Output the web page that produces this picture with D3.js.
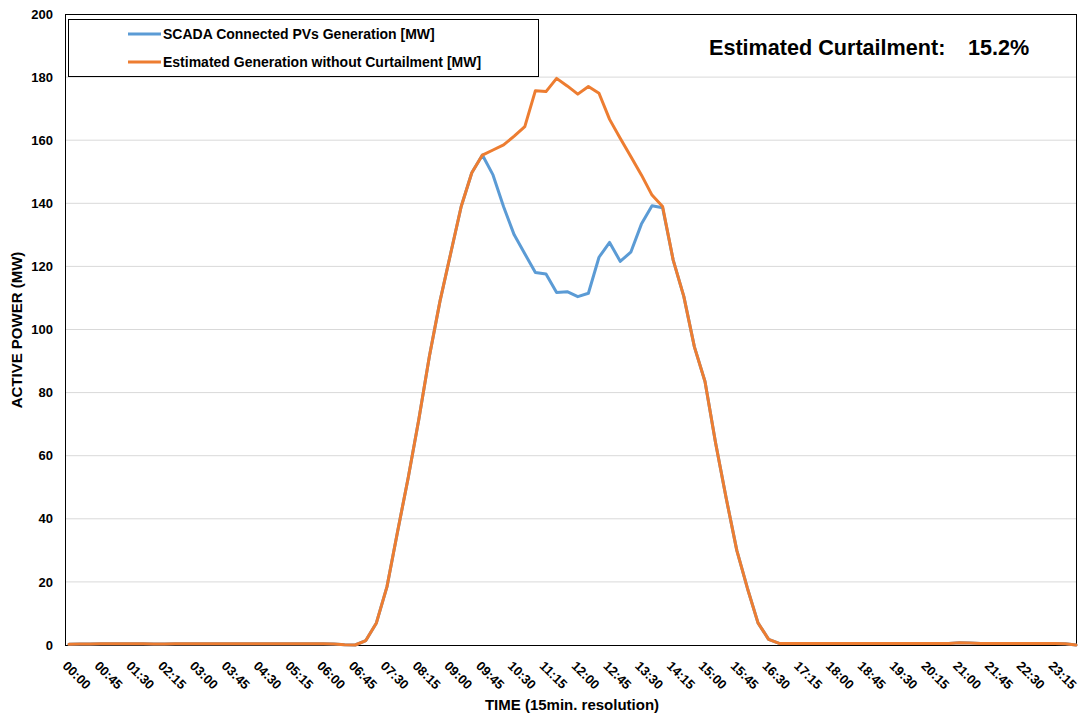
<!DOCTYPE html>
<html>
<head>
<meta charset="utf-8">
<script src="https://cdn.jsdelivr.net/npm/d3@7"></script>
<style>
  html, body { margin: 0; padding: 0; background: #ffffff; }
  svg text { font-family: "Liberation Sans", Arial, sans-serif; font-weight: bold; fill: #000; }
</style>
</head>
<body>
<svg id="chart" width="1081" height="716"></svg>
<script>
const times = [
  "00:00","00:15","00:30","00:45","01:00","01:15","01:30","01:45","02:00","02:15","02:30","02:45",
  "03:00","03:15","03:30","03:45","04:00","04:15","04:30","04:45","05:00","05:15","05:30","05:45",
  "06:00","06:15","06:30","06:45","07:00","07:15","07:30","07:45","08:00","08:15","08:30","08:45",
  "09:00","09:15","09:30","09:45","10:00","10:15","10:30","10:45","11:00","11:15","11:30","11:45",
  "12:00","12:15","12:30","12:45","13:00","13:15","13:30","13:45","14:00","14:15","14:30","14:45",
  "15:00","15:15","15:30","15:45","16:00","16:15","16:30","16:45","17:00","17:15","17:30","17:45",
  "18:00","18:15","18:30","18:45","19:00","19:15","19:30","19:45","20:00","20:15","20:30","20:45",
  "21:00","21:15","21:30","21:45","22:00","22:15","22:30","22:45","23:00","23:15","23:30","23:45"
];

const tickLabels = [
  "00:00","00:45","01:30","02:15","03:00","03:45","04:30","05:15","06:00","06:45","07:30","08:15",
  "09:00","09:45","10:30","11:15","12:00","12:45","13:30","14:15","15:00","15:45","16:30","17:15",
  "18:00","18:45","19:30","20:15","21:00","21:45","22:30","23:15"
];

const yTicks = [0, 20, 40, 60, 80, 100, 120, 140, 160, 180, 200];

const estimated = [
  0.2, 0.3, 0.3, 0.4, 0.4, 0.4, 0.4, 0.4, 0.3, 0.3, 0.4, 0.4,
  0.4, 0.4, 0.4, 0.4, 0.4, 0.4, 0.4, 0.4, 0.4, 0.4, 0.4, 0.4,
  0.4, 0.3, 0.1, 0.0, 1.4, 7.0, 18.5, 36.0, 53.0, 71.5, 91.5, 109.0,
  124.0, 139.0, 149.7, 155.3, 156.9, 158.5, 161.3, 164.3, 175.7, 175.4, 179.6, 177.2,
  174.6, 177.0, 174.9, 166.6, 160.6, 154.8, 149.0, 142.6, 139.0, 122.0, 110.5, 94.5,
  83.5, 64.0, 46.5, 30.0, 18.0, 7.0, 1.8, 0.5, 0.5, 0.5, 0.5, 0.5,
  0.5, 0.5, 0.5, 0.5, 0.5, 0.5, 0.5, 0.5, 0.5, 0.5, 0.5, 0.5,
  0.7, 0.6, 0.5, 0.5, 0.5, 0.5, 0.5, 0.5, 0.5, 0.5, 0.4, 0.0
];

const scada = [
  0.2, 0.3, 0.3, 0.4, 0.4, 0.4, 0.4, 0.4, 0.3, 0.3, 0.4, 0.4,
  0.4, 0.4, 0.4, 0.4, 0.4, 0.4, 0.4, 0.4, 0.4, 0.4, 0.4, 0.4,
  0.4, 0.3, 0.1, 0.0, 1.4, 7.0, 18.5, 36.0, 53.0, 71.5, 91.5, 109.0,
  124.0, 139.0, 149.7, 155.3, 149.0, 138.9, 130.0, 124.0, 118.1, 117.6, 111.7, 112.0,
  110.4, 111.5, 122.9, 127.6, 121.6, 124.5, 133.4, 139.2, 138.6, 122.0, 110.5, 94.5,
  83.5, 64.0, 46.5, 30.0, 18.0, 7.0, 1.8, 0.5, 0.5, 0.5, 0.5, 0.5,
  0.5, 0.5, 0.5, 0.5, 0.5, 0.5, 0.5, 0.5, 0.5, 0.5, 0.5, 0.5,
  0.7, 0.6, 0.5, 0.5, 0.5, 0.5, 0.5, 0.5, 0.5, 0.5, 0.4, 0.0
];

const seriesNames = ["SCADA Connected PVs Generation [MW]", "Estimated Generation without Curtailment [MW]"];
const seriesColors = ["#5B9BD5", "#ED7D31"];
const annotationLabel = "Estimated Curtailment:";
const annotationValue = "15.2%";

const svg = d3.select("#chart");
const plot = { left: 65, top: 14, right: 1077, bottom: 645 };

const x = d3.scalePoint().domain(times).range([69, 1076]);
const y = d3.scaleLinear().domain([0, 200]).range([plot.bottom, plot.top]);

// gridlines
svg.append("g").selectAll("line").data(yTicks.filter(d => d > 0 && d < 200)).join("line")
  .attr("x1", plot.left).attr("x2", plot.right)
  .attr("y1", d => y(d)).attr("y2", d => y(d))
  .attr("stroke", "#d9d9d9").attr("stroke-width", 1);

// frame
svg.append("rect")
  .attr("x", plot.left + 0.5).attr("y", plot.top + 0.5)
  .attr("width", plot.right - plot.left - 1).attr("height", plot.bottom - plot.top)
  .attr("fill", "none").attr("stroke", "#000").attr("stroke-width", 1);

// y axis
const yAxis = d3.axisLeft(y).tickValues(yTicks).tickSize(0).tickPadding(12);
const gy = svg.append("g").attr("transform", `translate(${plot.left},0)`).call(yAxis);
gy.select(".domain").remove();
gy.selectAll("text").style("font-size", "13px").style("font-family", "'Liberation Sans', Arial, sans-serif").style("font-weight", "bold");

// x axis
const xAxis = d3.axisBottom(x).tickValues(tickLabels).tickSize(0);
const gx = svg.append("g").attr("transform", `translate(0,${plot.bottom})`).call(xAxis);
gx.select(".domain").attr("d", `M${plot.left},0.5H${plot.right}`).attr("stroke", "#000");
gx.selectAll("text")
  .style("font-size", "13px").style("font-family", "'Liberation Sans', Arial, sans-serif").style("font-weight", "bold")
  .attr("text-anchor", "start")
  .attr("y", 0).attr("dy", "0.72em")
  .attr("transform", "translate(-1,15) rotate(45)");

// lines
const line = d3.line().x((d, i) => x(times[i])).y(d => y(d));
[scada, estimated].forEach((s, k) => {
  svg.append("path").datum(s)
    .attr("d", line)
    .attr("fill", "none")
    .attr("stroke", seriesColors[k])
    .attr("stroke-width", 3)
    .attr("stroke-linejoin", "round")
    .attr("stroke-linecap", "round");
});

// legend
const lg = svg.append("g");
lg.append("rect").attr("x", 68.5).attr("y", 19.5).attr("width", 470).attr("height", 57)
  .attr("fill", "#fff").attr("stroke", "#000").attr("stroke-width", 1);
seriesNames.forEach((n, k) => {
  const yy = 34 + k * 28;
  lg.append("line").attr("x1", 128).attr("x2", 161).attr("y1", yy).attr("y2", yy)
    .attr("stroke", seriesColors[k]).attr("stroke-width", 3);
  lg.append("text").attr("x", 163).attr("y", yy).attr("dy", "0.35em")
    .style("font-size", "14px").text(n);
});

// annotation
svg.append("text").attr("x", 709).attr("y", 55).style("font-size", "21.6px").text(annotationLabel);
svg.append("text").attr("x", 968).attr("y", 55).style("font-size", "21.6px").text(annotationValue);

// axis titles
svg.append("text").attr("x", 572).attr("y", 710).attr("text-anchor", "middle")
  .style("font-size", "15px").text("TIME (15min. resolution)");
svg.append("text").attr("transform", "translate(22,330) rotate(-90)").attr("text-anchor", "middle")
  .style("font-size", "15px").text("ACTIVE POWER (MW)");
</script>
</body>
</html>
